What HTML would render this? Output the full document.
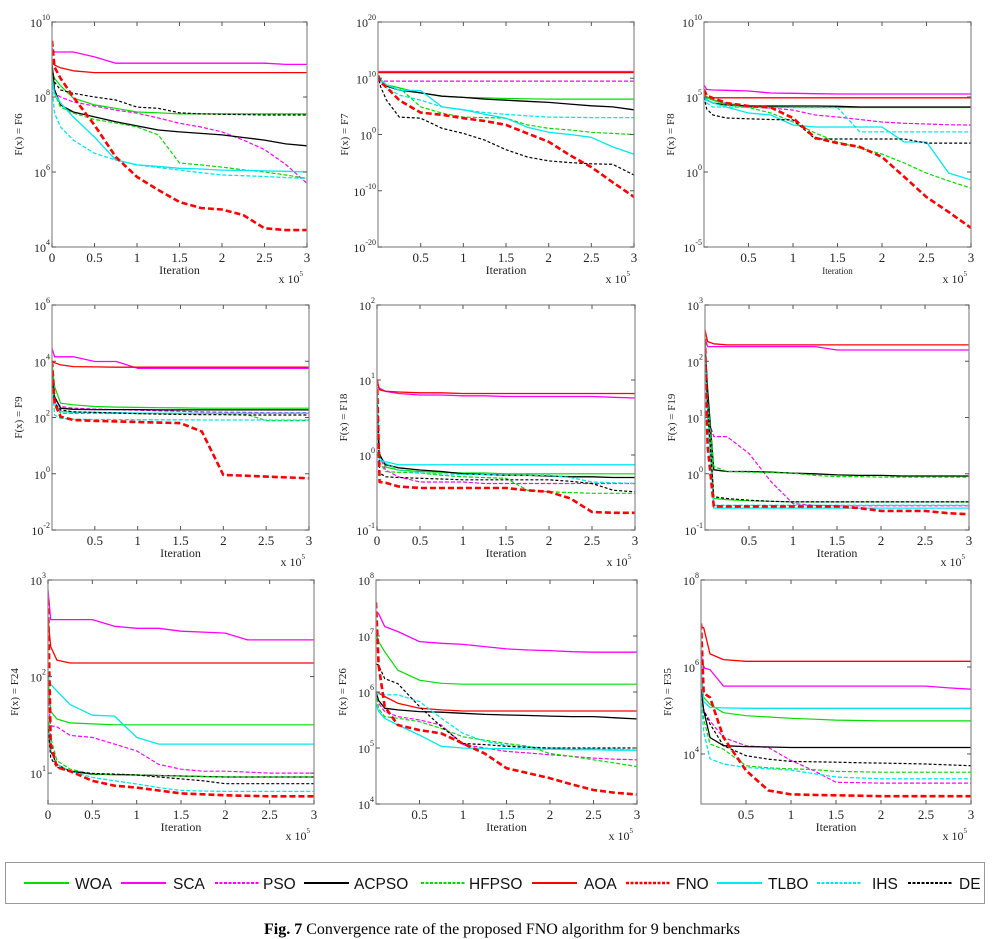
<!DOCTYPE html>
<html><head><meta charset="utf-8">
<style>
html,body{margin:0;padding:0;background:#fff;}
body{width:1004px;height:935px;overflow:hidden;position:relative;font-family:"Liberation Serif",serif;}
#legend{position:absolute;left:5px;top:862px;width:980px;height:42px;border:1.5px solid #999;box-sizing:border-box;}
#caption{position:absolute;left:0;width:1004px;top:921px;text-align:center;font-size:16px;font-family:"Liberation Serif",serif;}
</style></head>
<body>
<svg id="chart" width="1004" height="860" style="position:absolute;left:0;top:0"></svg>
<div id="legend">
<svg id="legsvg" width="980" height="42"></svg>
</div>
<div id="caption"><b>Fig. 7</b> Convergence rate of the proposed FNO algorithm for 9 benchmarks</div>
<script>
const NAMES=['WOA','SCA','PSO','ACPSO','HFPSO','AOA','FNO','TLBO','IHS','DE'];
const XGRID=[0,0.03,0.1,0.25,0.5,0.75,1,1.25,1.5,1.75,2,2.25,2.5,2.75,3];
// log10 F(x) values, order: WOA,SCA,PSO,ACPSO,HFPSO,AOA,FNO,TLBO,IHS,DE
const F6_WOA=[8.7,8.5,8.3,7.97,7.79,7.7,7.6,7.58,7.55,7.55,7.55,7.55,7.55,7.55,7.55];
const F6_SCA=[9.3,9.2,9.2,9.2,9.07,8.9,8.9,8.9,8.9,8.9,8.9,8.9,8.9,8.87,8.87];
const F6_PSO=[8.3,8.1,8.0,7.87,7.76,7.65,7.57,7.44,7.3,7.2,7.07,6.85,6.6,6.2,5.7];
const F6_ACPSO=[8.9,8.2,7.79,7.6,7.47,7.34,7.23,7.12,7.07,7.03,6.99,6.92,6.85,6.75,6.7];
const F6_HFPSO=[8.6,8.1,7.73,7.57,7.4,7.31,7.2,6.99,6.24,6.19,6.13,6.06,6.0,5.92,5.83];
const F6_AOA=[8.95,8.85,8.78,8.7,8.65,8.65,8.65,8.65,8.65,8.65,8.65,8.65,8.65,8.65,8.65];
const F6_FNO=[9.5,8.8,8.5,8.0,7.25,6.4,5.87,5.52,5.2,5.04,5.0,4.85,4.5,4.45,4.45];
const F6_TLBO=[8.5,8.1,7.84,7.47,6.93,6.32,6.19,6.15,6.1,6.08,6.05,6.04,6.03,6.02,6.0];
const F6_IHS=[8.3,7.57,7.2,6.85,6.5,6.32,6.19,6.12,6.05,5.98,5.92,5.9,5.88,5.85,5.83];
const F6_DE=[8.8,8.4,8.19,8.1,8.0,7.92,7.73,7.7,7.58,7.55,7.54,7.53,7.52,7.52,7.52];

const F7_WOA=[10.5,9.8,8.8,8.3,7.4,6.8,6.6,6.5,6.4,6.35,6.3,6.3,6.3,6.3,6.3];
const F7_SCA=[11.2,11.2,11.2,11.2,11.2,11.2,11.2,11.2,11.2,11.2,11.2,11.2,11.2,11.2,11.2];
const F7_PSO=[9.5,9.5,9.5,9.5,9.5,9.5,9.5,9.5,9.5,9.5,9.5,9.5,9.5,9.5,9.5];
const F7_ACPSO=[10.5,9.8,8.6,7.9,7.4,6.8,6.6,6.3,6.1,5.9,5.7,5.4,5.1,4.9,4.4];
const F7_HFPSO=[10.5,9.8,8.8,8.3,4.9,3.8,3.1,3.0,2.9,1.7,1.1,0.8,0.4,0.2,0];
const F7_AOA=[11,11,11,11,11,11,11,11,11,11,11,11,11,11,11];
const F7_FNO=[10.5,9.3,8.4,6.1,3.9,3.5,2.9,2.4,1.7,0.2,-1.3,-3.7,-5.8,-8.5,-11.1];
const F7_TLBO=[10.5,9.8,8.8,7.9,7.8,4.9,4.4,3.6,2.9,1.3,0.4,0,-0.5,-2.2,-3.5];
const F7_IHS=[10.5,9.6,8.3,7.0,6.1,4.9,4.4,3.9,3.6,3.3,3.1,3.05,3,3,3];
const F7_DE=[10.5,8.5,6.1,3.1,2.9,1.1,0.2,-1,-2.7,-4,-4.7,-5,-5.2,-5.3,-7.2];

const F8_WOA=[5.2,5.0,4.8,4.53,4.4,4.33,4.3,4.3,4.3,4.3,4.3,4.3,4.3,4.3,4.3];
const F8_SCA=[5.8,5.5,5.47,5.45,5.4,5.27,5.25,5.22,5.2,5.2,5.2,5.2,5.2,5.2,5.2];
const F8_PSO=[5.3,5.0,4.8,4.6,4.33,4.27,4.13,3.8,3.67,3.5,3.33,3.25,3.2,3.15,3.13];
const F8_ACPSO=[5,4.8,4.6,4.47,4.4,4.4,4.4,4.4,4.38,4.33,4.33,4.33,4.33,4.33,4.33];
const F8_HFPSO=[5,4.9,4.8,4.47,4.3,3.93,3.33,2.6,2.0,1.6,1.2,0.6,-0.07,-0.6,-1.07];
const F8_AOA=[5.2,4.95,4.95,4.95,4.95,4.95,4.95,4.95,4.95,4.95,4.95,4.95,4.95,4.95,4.95];
const F8_FNO=[5.5,5.1,4.93,4.6,4.4,4.3,3.6,2.27,1.93,1.67,1.0,-0.33,-1.67,-2.67,-3.73];
const F8_TLBO=[5,4.8,4.6,4.33,3.93,3.8,3.13,3.0,3.0,3.0,3.0,2.0,2.0,-0.07,-0.53];
const F8_IHS=[5,4.6,4.33,4.33,4.3,4.3,4.3,4.3,4.3,2.67,2.67,2.67,2.67,2.67,2.67];
const F8_DE=[5,4.2,3.8,3.6,3.55,3.5,3.47,2.2,2.2,2.2,2.2,2.2,1.93,1.93,1.93];

const F9_WOA=[3.9,3.1,2.51,2.45,2.39,2.37,2.36,2.35,2.34,2.33,2.33,2.33,2.33,2.33,2.33];
const F9_SCA=[4.46,4.16,4.16,4.16,3.99,3.99,3.75,3.75,3.75,3.75,3.75,3.75,3.75,3.75,3.75];
const F9_PSO=[3.3,2.62,2.39,2.33,2.3,2.28,2.26,2.24,2.22,2.2,2.19,2.18,2.17,2.17,2.17];
const F9_ACPSO=[3.5,2.74,2.33,2.29,2.28,2.28,2.28,2.27,2.27,2.27,2.27,2.27,2.27,2.27,2.27];
const F9_HFPSO=[3.5,2.5,2.15,2.15,2.15,2.15,2.14,2.14,2.14,2.14,2.13,2.13,1.89,1.89,1.89];
const F9_AOA=[3.99,3.95,3.87,3.81,3.8,3.79,3.79,3.79,3.79,3.79,3.79,3.79,3.79,3.79,3.79];
const F9_FNO=[4.0,2.51,2.03,1.91,1.88,1.86,1.84,1.82,1.8,1.5,-0.04,-0.07,-0.1,-0.13,-0.16];
const F9_TLBO=[3.5,2.55,2.21,2.19,2.18,2.17,2.16,2.15,2.15,2.15,2.15,2.15,2.15,2.15,2.15];
const F9_IHS=[3.4,2.09,1.97,1.94,1.93,1.93,1.92,1.92,1.92,1.91,1.91,1.91,1.91,1.91,1.91];
const F9_DE=[3.5,2.51,2.27,2.2,2.18,2.16,2.14,2.12,2.11,2.1,2.1,2.09,2.09,2.09,2.09];

const F18_WOA=[0.8,0.02,-0.16,-0.2,-0.22,-0.23,-0.24,-0.24,-0.25,-0.25,-0.25,-0.25,-0.25,-0.25,-0.25];
const F18_SCA=[0.9,0.89,0.85,0.82,0.8,0.8,0.79,0.79,0.78,0.78,0.78,0.78,0.78,0.77,0.76];
const F18_PSO=[0.8,-0.02,-0.2,-0.29,-0.36,-0.36,-0.36,-0.38,-0.38,-0.38,-0.38,-0.38,-0.38,-0.38,-0.38];
const F18_ACPSO=[0.8,0,-0.13,-0.17,-0.2,-0.22,-0.25,-0.26,-0.27,-0.27,-0.28,-0.29,-0.29,-0.3,-0.3];
const F18_HFPSO=[0.8,-0.1,-0.22,-0.23,-0.24,-0.27,-0.29,-0.3,-0.31,-0.47,-0.49,-0.5,-0.51,-0.51,-0.51];
const F18_AOA=[1.0,0.87,0.85,0.84,0.83,0.83,0.82,0.82,0.82,0.82,0.82,0.82,0.82,0.82,0.82];
const F18_FNO=[1.0,-0.36,-0.37,-0.42,-0.44,-0.44,-0.44,-0.44,-0.44,-0.47,-0.49,-0.58,-0.76,-0.77,-0.77];
const F18_TLBO=[0.9,-0.07,-0.09,-0.13,-0.13,-0.13,-0.13,-0.13,-0.13,-0.13,-0.13,-0.13,-0.13,-0.13,-0.13];
const F18_IHS=[0.8,-0.05,-0.11,-0.2,-0.24,-0.25,-0.26,-0.26,-0.27,-0.27,-0.27,-0.3,-0.36,-0.37,-0.38];
const F18_DE=[0.8,-0.24,-0.29,-0.3,-0.31,-0.32,-0.33,-0.33,-0.33,-0.33,-0.33,-0.35,-0.38,-0.47,-0.49];

const F19_WOA=[2.3,1.5,-0.44,-0.46,-0.48,-0.49,-0.5,-0.5,-0.5,-0.5,-0.5,-0.5,-0.5,-0.5,-0.5];
const F19_SCA=[2.4,2.26,2.26,2.26,2.26,2.26,2.26,2.26,2.2,2.2,2.2,2.2,2.2,2.2,2.2];
const F19_PSO=[2.4,1.0,0.66,0.66,0.36,-0.14,-0.53,-0.56,-0.57,-0.57,-0.57,-0.57,-0.57,-0.57,-0.57];
const F19_ACPSO=[2.3,1.5,0.07,0.04,0.04,0.03,0.01,0,-0.02,-0.03,-0.03,-0.04,-0.04,-0.04,-0.04];
const F19_HFPSO=[2.3,1.3,0.13,0.04,0.03,0.02,0.01,-0.03,-0.05,-0.05,-0.06,-0.06,-0.06,-0.06,-0.06];
const F19_AOA=[2.56,2.35,2.31,2.29,2.29,2.29,2.29,2.29,2.29,2.29,2.29,2.29,2.29,2.29,2.29];
const F19_FNO=[2.4,0.5,-0.58,-0.58,-0.58,-0.58,-0.58,-0.58,-0.58,-0.61,-0.66,-0.66,-0.66,-0.7,-0.72];
const F19_TLBO=[2.3,1.2,-0.61,-0.61,-0.61,-0.61,-0.61,-0.61,-0.61,-0.61,-0.61,-0.61,-0.61,-0.61,-0.61];
const F19_IHS=[2.3,1.0,-0.56,-0.56,-0.56,-0.56,-0.56,-0.56,-0.56,-0.56,-0.56,-0.56,-0.56,-0.56,-0.56];
const F19_DE=[2.3,1.2,-0.41,-0.44,-0.47,-0.49,-0.5,-0.5,-0.5,-0.5,-0.5,-0.5,-0.5,-0.5,-0.5];

const F24_WOA=[2.0,1.64,1.56,1.52,1.51,1.5,1.5,1.5,1.5,1.5,1.5,1.5,1.5,1.5,1.5];
const F24_SCA=[2.9,2.59,2.59,2.59,2.59,2.52,2.5,2.5,2.47,2.46,2.45,2.38,2.38,2.38,2.38];
const F24_PSO=[1.8,1.49,1.48,1.39,1.37,1.3,1.23,1.09,1.04,1.02,1.02,1.01,1.0,1.0,1.0];
const F24_ACPSO=[1.5,1.23,1.09,1.02,0.99,0.985,0.98,0.975,0.97,0.965,0.96,0.96,0.96,0.96,0.96];
const F24_HFPSO=[1.6,1.37,1.13,1.04,0.99,0.985,0.98,0.975,0.97,0.965,0.96,0.96,0.96,0.96,0.96];
const F24_AOA=[2.6,2.31,2.17,2.14,2.14,2.14,2.14,2.14,2.14,2.14,2.14,2.14,2.14,2.14,2.14];
const F24_FNO=[2.8,1.3,1.06,1.02,0.92,0.87,0.85,0.82,0.79,0.78,0.77,0.765,0.76,0.76,0.76];
const F24_TLBO=[2.0,1.92,1.85,1.71,1.6,1.59,1.37,1.3,1.3,1.3,1.3,1.3,1.3,1.3,1.3];
const F24_IHS=[1.5,1.23,1.09,1.02,0.955,0.92,0.887,0.85,0.82,0.815,0.81,0.81,0.81,0.81,0.81];
const F24_DE=[1.5,1.16,1.06,1.02,0.997,0.99,0.98,0.96,0.94,0.92,0.89,0.89,0.89,0.89,0.89];

const F26_WOA=[7.05,6.9,6.72,6.39,6.21,6.155,6.14,6.14,6.14,6.14,6.14,6.14,6.14,6.14,6.14];
const F26_SCA=[7.43,7.4,7.17,7.08,6.9,6.87,6.85,6.81,6.77,6.75,6.74,6.72,6.71,6.71,6.71];
const F26_PSO=[6.0,5.8,5.65,5.56,5.5,5.41,5.06,5.0,4.94,4.91,4.88,4.85,4.82,4.8,4.79];
const F26_ACPSO=[6.0,5.85,5.71,5.68,5.65,5.64,5.62,5.6,5.59,5.58,5.57,5.56,5.56,5.54,5.52];
const F26_HFPSO=[6.0,5.7,5.56,5.53,5.47,5.35,5.2,5.14,5.08,5.03,4.9,4.85,4.79,4.73,4.67];
const F26_AOA=[6.0,5.98,5.92,5.8,5.71,5.68,5.66,5.66,5.66,5.66,5.66,5.66,5.66,5.66,5.66];
const F26_FNO=[7.6,6.48,5.74,5.41,5.32,5.26,5.08,4.9,4.64,4.55,4.46,4.35,4.25,4.2,4.17];
const F26_TLBO=[5.8,5.65,5.53,5.41,5.23,5.03,5.0,4.99,4.99,4.98,4.98,4.97,4.97,4.96,4.96];
const F26_IHS=[6.0,5.97,5.95,5.95,5.83,5.53,5.26,5.12,5.05,5.02,5.0,4.99,4.99,4.98,4.96];
const F26_DE=[6.5,6.48,6.24,6.15,5.74,5.38,5.08,5.06,5.03,5.01,5.0,5.0,5.0,5.0,5.0];

const F35_WOA=[5.8,5.3,5.14,4.95,4.88,4.85,4.82,4.8,4.78,4.77,4.76,4.76,4.76,4.76,4.76];
const F35_SCA=[6.3,5.98,5.94,5.56,5.56,5.56,5.56,5.56,5.56,5.56,5.56,5.56,5.56,5.52,5.49];
const F35_PSO=[5.5,5.0,4.76,4.38,4.19,4.15,3.85,3.62,3.35,3.34,3.33,3.33,3.33,3.33,3.33];
const F35_ACPSO=[5.5,5.0,4.38,4.19,4.17,4.16,4.15,4.15,4.15,4.15,4.15,4.15,4.15,4.15,4.15];
const F35_HFPSO=[5.3,4.8,4.23,4.11,3.73,3.68,3.66,3.64,3.6,3.59,3.58,3.58,3.58,3.58,3.58];
const F35_AOA=[6.93,6.9,6.3,6.17,6.13,6.13,6.13,6.13,6.13,6.13,6.13,6.13,6.13,6.13,6.13];
const F35_FNO=[7.0,5.4,5.3,4.38,3.62,3.16,3.07,3.06,3.05,3.04,3.03,3.03,3.03,3.03,3.03];
const F35_TLBO=[6.0,5.2,5.07,5.06,5.05,5.05,5.05,5.05,5.05,5.05,5.05,5.05,5.05,5.05,5.05];
const F35_IHS=[5.3,4.5,3.89,3.77,3.69,3.66,3.63,3.55,3.47,3.45,3.43,3.43,3.43,3.43,3.43];
const F35_DE=[5.5,5.0,4.69,4.19,3.96,3.88,3.83,3.82,3.81,3.8,3.79,3.78,3.77,3.75,3.73];

const F6=[F6_WOA,F6_SCA,F6_PSO,F6_ACPSO,F6_HFPSO,F6_AOA,F6_FNO,F6_TLBO,F6_IHS,F6_DE];
const F7=[F7_WOA,F7_SCA,F7_PSO,F7_ACPSO,F7_HFPSO,F7_AOA,F7_FNO,F7_TLBO,F7_IHS,F7_DE];
const F8=[F8_WOA,F8_SCA,F8_PSO,F8_ACPSO,F8_HFPSO,F8_AOA,F8_FNO,F8_TLBO,F8_IHS,F8_DE];
const F9=[F9_WOA,F9_SCA,F9_PSO,F9_ACPSO,F9_HFPSO,F9_AOA,F9_FNO,F9_TLBO,F9_IHS,F9_DE];
const F18=[F18_WOA,F18_SCA,F18_PSO,F18_ACPSO,F18_HFPSO,F18_AOA,F18_FNO,F18_TLBO,F18_IHS,F18_DE];
const F19=[F19_WOA,F19_SCA,F19_PSO,F19_ACPSO,F19_HFPSO,F19_AOA,F19_FNO,F19_TLBO,F19_IHS,F19_DE];
const F24=[F24_WOA,F24_SCA,F24_PSO,F24_ACPSO,F24_HFPSO,F24_AOA,F24_FNO,F24_TLBO,F24_IHS,F24_DE];
const F26=[F26_WOA,F26_SCA,F26_PSO,F26_ACPSO,F26_HFPSO,F26_AOA,F26_FNO,F26_TLBO,F26_IHS,F26_DE];
const F35=[F35_WOA,F35_SCA,F35_PSO,F35_ACPSO,F35_HFPSO,F35_AOA,F35_FNO,F35_TLBO,F35_IHS,F35_DE];

const XT_ALL=[0,0.5,1,1.5,2,2.5,3];
const XT_NOZERO=[0.5,1,1.5,2,2.5,3];
const YT_F6=[4,6,8,10], YT_F7=[-20,-10,0,10,20], YT_F8=[-5,0,5,10];
const YT_F9=[-2,0,2,4,6], YT_F18=[-1,0,1,2], YT_F19=[-1,0,1,2,3];
const YT_F24=[1,2,3], YT_F26=[4,5,6,7,8], YT_F35=[4,6,8];

const COLORS=['#00dd00','#ff00ff','#ff00ff','#000000','#00dd00','#ff0000','#ff0000','#00e8f0','#00e8f0','#000000'];
const DASH=['', '', '4 2', '', '4 2', '', '6 3', '', '4 2', '3 2'];
const WIDTH=[1.2,1.3,1.2,1.3,1.2,1.3,2.6,1.3,1.3,1.2];

const panels=[
 {id:'F6',d:F6,x0:52,x1:307,y0:22,y1:247,ymax:10,ymin:4,yt:YT_F6,xt:XT_ALL},
 {id:'F7',d:F7,x0:378,x1:634,y0:22,y1:247,ymax:20,ymin:-20,yt:YT_F7,xt:XT_NOZERO},
 {id:'F8',d:F8,x0:704,x1:971,y0:22,y1:247,ymax:10,ymin:-5,yt:YT_F8,xt:XT_NOZERO,small:true},
 {id:'F9',d:F9,x0:52,x1:309,y0:305,y1:530,ymax:6,ymin:-2,yt:YT_F9,xt:XT_NOZERO},
 {id:'F18',d:F18,x0:377,x1:635,y0:305,y1:530,ymax:2,ymin:-1,yt:YT_F18,xt:XT_ALL},
 {id:'F19',d:F19,x0:705,x1:969,y0:305,y1:530,ymax:3,ymin:-1,yt:YT_F19,xt:XT_NOZERO},
 {id:'F24',d:F24,x0:48,x1:314,y0:580,y1:804,ymax:3,ymin:0.68,yt:YT_F24,xt:XT_ALL},
 {id:'F26',d:F26,x0:376,x1:637,y0:580,y1:804,ymax:8,ymin:4,yt:YT_F26,xt:XT_NOZERO},
 {id:'F35',d:F35,x0:701,x1:971,y0:580,y1:804,ymax:8,ymin:2.85,yt:YT_F35,xt:XT_NOZERO}
];
const NS='http://www.w3.org/2000/svg';
const svg=document.getElementById('chart');
function mk(tag,attrs,parent){const e=document.createElementNS(NS,tag);for(const k in attrs)e.setAttribute(k,attrs[k]);(parent||svg).appendChild(e);return e;}
const defs=mk('defs',{});
panels.forEach((p,pi)=>{
  const g=mk('g',{});
  
  
  const sx=v=>p.x0+(v/3)*(p.x1-p.x0);
  const sy=v=>p.y0+(p.ymax-v)/(p.ymax-p.ymin)*(p.y1-p.y0);
  const cp=mk('clipPath',{id:'clip'+pi},defs);
  mk('rect',{x:p.x0,y:p.y0,width:p.x1-p.x0,height:p.y1-p.y0},cp);
  const lg=mk('g',{'clip-path':'url(#clip'+pi+')'},g);
  const order=[1,5,2,0,3,4,7,8,9,6];
  order.forEach(si=>{
    const vals=p.d[si];
    const pts=vals.map((v,i)=>sx(XGRID[i]).toFixed(1)+','+sy(v).toFixed(1)).join(' ');
    const pl=mk('polyline',{points:pts,fill:'none',stroke:COLORS[si],'stroke-width':WIDTH[si],'stroke-dasharray':DASH[si],'stroke-linejoin':'round'},lg);
    
    
  });
  const box=mk('rect',{x:p.x0,y:p.y0,width:p.x1-p.x0,height:p.y1-p.y0,fill:'none',stroke:'#8a8a8a','stroke-width':1.2},g);
  
  
  p.xt.forEach(t=>{
    const x=sx(t);
    mk('line',{x1:x,x2:x,y1:p.y1,y2:p.y1-4,stroke:'#555','stroke-width':1},g);
    mk('line',{x1:x,x2:x,y1:p.y0,y2:p.y0+4,stroke:'#555','stroke-width':1},g);
    const tx=mk('text',{x:x,y:p.y1+15,'text-anchor':'middle','font-size':13,'font-family':'Liberation Serif, serif',fill:'#222'},g);
    tx.textContent=String(t);
    
    
  });
  p.yt.forEach(t=>{
    const y=sy(t);
    mk('line',{x1:p.x0,x2:p.x0+4,y1:y,y2:y,stroke:'#555','stroke-width':1},g);
    mk('line',{x1:p.x1,x2:p.x1-4,y1:y,y2:y,stroke:'#555','stroke-width':1},g);
    const tx=mk('text',{x:p.x0-2,y:y+5,'text-anchor':'end','font-size':12,'font-family':'Liberation Serif, serif',fill:'#222'},g);
    const a=mk('tspan',{},tx);a.textContent='10';
    const b=mk('tspan',{dy:-7,'font-size':8},tx);b.textContent=String(t);
    
    
  });
  const cy=(p.y0+p.y1)/2, lx=p.x0-30;
  const yl=mk('text',{x:lx,y:cy,transform:'rotate(-90 '+lx+' '+cy+')','text-anchor':'middle','font-size':11,'font-family':'Liberation Serif, serif',fill:'#222'},g);
  yl.textContent='F(x) = '+p.id;
  
  
  const xl=mk('text',{x:(p.x0+p.x1)/2,y:p.y1+27,'text-anchor':'middle','font-size':p.small?9:12,'font-family':'Liberation Serif, serif',fill:'#222'},g);
  xl.textContent='Iteration';
  
  
  const xs=mk('text',{x:p.x1-4,y:p.y1+36,'text-anchor':'end','font-size':12,'font-family':'Liberation Serif, serif',fill:'#222'},g);
  const s1=mk('tspan',{},xs);s1.textContent='x 10';
  const s2=mk('tspan',{dy:-7,'font-size':7},xs);s2.textContent='5';
  
  
});
const leg=document.getElementById('legsvg');
const LX=[18,115,209,298,415,526,620,711,811,902];
const TX=[69,167,257,348,463,578,670,762,866,953];
NAMES.forEach((n,i)=>{
  const g=document.createElementNS(NS,'g');
  
  
  leg.appendChild(g);
  mk('line',{x1:LX[i],x2:LX[i]+45,y1:20,y2:20,stroke:COLORS[i],'stroke-width':i===6?2.6:2,'stroke-dasharray':DASH[i]?'3 1.5':''},g);
  const t=mk('text',{x:TX[i],y:26,'font-size':15.5,'font-family':'Liberation Sans, sans-serif',fill:'#111'},g);
  t.textContent=n;
});
</script>
</body></html>
